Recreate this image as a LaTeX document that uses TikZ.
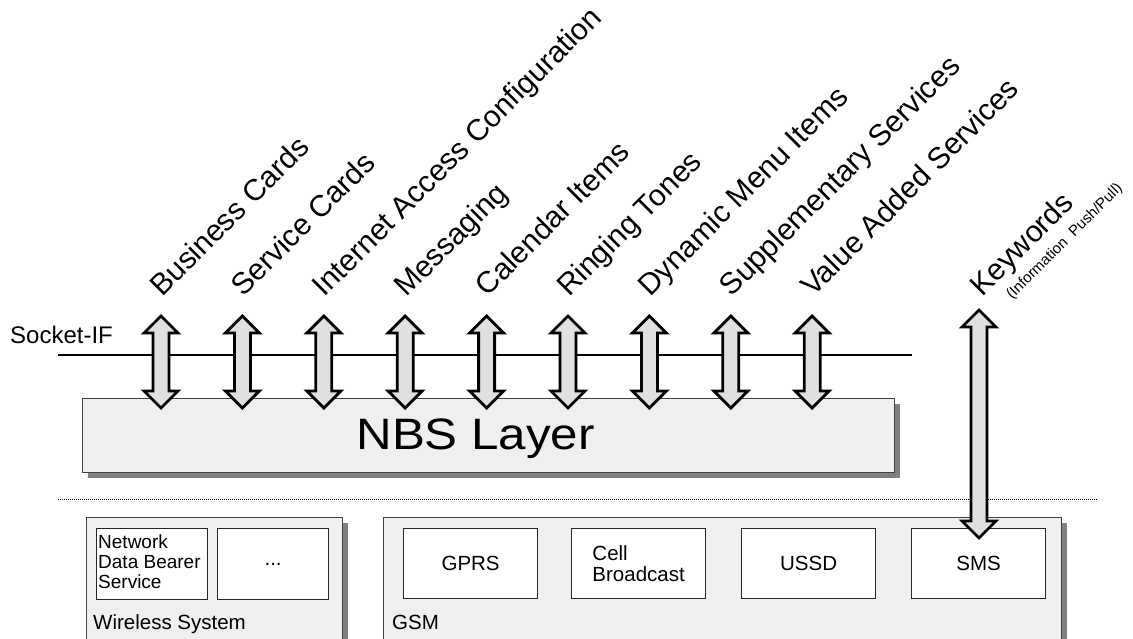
\documentclass[tikz,border=0pt]{standalone}
\usepackage{fontspec}
\setmainfont{Liberation Sans}
\newfontfamily\widefont[FakeStretch=1.12]{Liberation Sans}
\usetikzlibrary{calc,shadows}
\definecolor{boxgray}{HTML}{EFEFEF}
\definecolor{arrgray}{HTML}{E0E0E0}
\definecolor{shgray}{HTML}{808080}
\newcommand\blockarr[4]{% x, ytop, ybot, half shaft
  \draw[arr] (#1,#2) -- (#1+17,#2+17) -- (#1+#4,#2+17) -- (#1+#4,#3-17) -- (#1+17,#3-17)
    -- (#1,#3) -- (#1-17,#3-17) -- (#1-#4,#3-17) -- (#1-#4,#2+17) -- (#1-17,#2+17) -- cycle;}
\begin{document}
\begin{tikzpicture}[x=1pt,y=-1pt,
  lbl/.style={anchor=base west, rotate=45, inner sep=0, font=\fontsize{30}{32}\selectfont},
  sub/.style={anchor=base west, rotate=45, inner sep=0, font=\fontsize{15}{15}\selectfont},
  arr/.style={draw=black, line width=2.8pt, fill=arrgray, line join=miter},
  layer/.style={draw=black!75, line width=1.3pt, fill=boxgray, anchor=north west, inner sep=0,
    drop shadow={shadow xshift=5pt, shadow yshift=-5pt, fill=shgray, opacity=1}},
  inner/.style={draw=black!85, line width=1.2pt, fill=white, anchor=north west, inner sep=0},
  txt/.style={font=\fontsize{20.5}{21}\selectfont, inner sep=0},
]
\useasboundingbox (0,0) rectangle (1133,639);

% Socket interface
\node[anchor=base west, inner sep=0, font=\fontsize{24}{26}\selectfont] (sock) at (10,343) {Socket-IF};
\coordinate (sockL) at (58,355);
\coordinate (sockR) at (912,355);
\draw[line width=1.8pt] (sockL) -- (sockR);

% NBS layer
\node[layer, minimum width=812, minimum height=74] (nbs) at (82,398) {};
\node[font=\widefont\fontsize{44}{46}\selectfont, inner sep=0] (nbst) at ($(nbs.center)+(-13,3)$) {NBS Layer};

% arrows and labels
\foreach \t [count=\k] in {Business Cards, Service Cards, Internet Access Configuration, Messaging,
  Calendar Items, Ringing Tones, Dynamic Menu Items, Supplementary Services, Value Added Services}{
  \pgfmathsetmacro\ax{161+81.4*(\k-1)}
  \blockarr{\ax}{316}{408}{8}
  \node[lbl] (l\k) at (\ax+1,298) {\t};
}

% dotted separator
\coordinate (dotL) at (58,499);
\coordinate (dotR) at (1097,499);
\draw[line width=0.8pt, dash pattern=on 1pt off 1pt] (dotL) -- (dotR);

% Wireless system
\node[layer, minimum width=256, minimum height=122] (ws) at (86,517) {};
\node[inner, minimum width=111, minimum height=71] (ndbs) at (96,528) {};
\node[font=\fontsize{19}{20}\selectfont, inner sep=0, anchor=north west, align=left] (ndbst) at (98,535) {Network\\Data Bearer\\Service};
\node[inner, minimum width=111, minimum height=71] (dots) at (217,528) {};
\node[txt] at (dots.center) {...};
\node[txt, anchor=base west] (wst) at (93,629) {Wireless System};

% GSM
\node[layer, minimum width=678, minimum height=122] (gsm) at (383,517) {};
\node[inner, minimum width=134, minimum height=70] (gprs) at (403,528) {};
\node[txt] at (gprs.center) {GPRS};
\node[inner, minimum width=134, minimum height=70] (cb) at (571,528) {};
\node[txt, align=left] at (cb.center) {Cell\\Broadcast};
\node[inner, minimum width=134, minimum height=70] (ussd) at (741,528) {};
\node[txt] at (ussd.center) {USSD};
\node[inner, minimum width=134, minimum height=70] (sms) at (911,528) {};
\node[txt] at (sms.center) {SMS};
\node[txt, anchor=base west] (gsmt) at (392,629) {GSM};

% Keywords arrow
\blockarr{979}{310}{538}{8}
\node[lbl] (kw) at (982,298) {Keywords};
\node[sub] (kws) at (1012,300) {(Information\ \ Push/Pull)};
\end{tikzpicture}
\end{document}
